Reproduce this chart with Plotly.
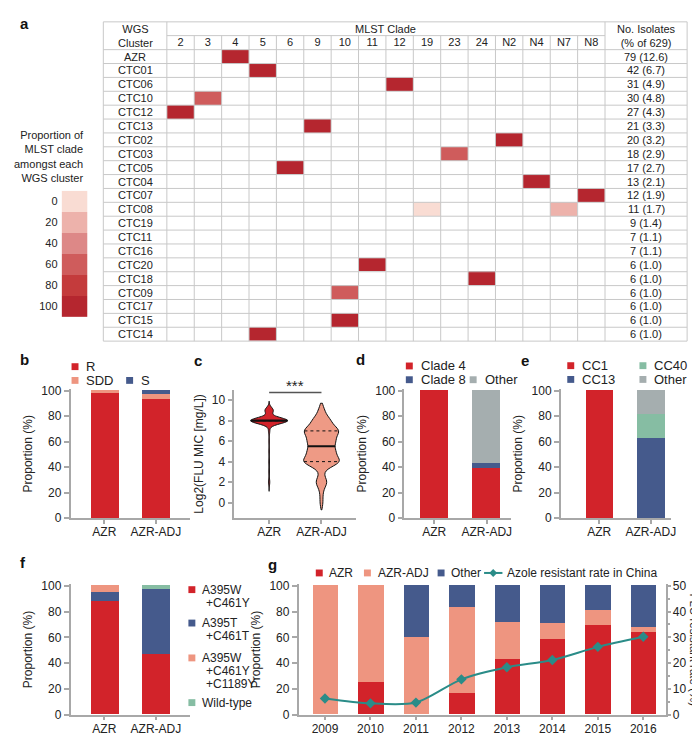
import numpy as np
import plotly.graph_objects as go

W, H = 700, 736
def X(px): return px / W
def Y(py): return 1 - py / H

FONT = "Liberation Sans, Arial, Helvetica, sans-serif"
TXT = "#222222"
AX = "#A8A8A8"
GRID = "#C8C8C8"

# ---------------- Panel a data ----------------
clusters = ["AZR", "CTC01", "CTC06", "CTC10", "CTC12", "CTC13", "CTC02", "CTC03", "CTC05", "CTC04",
            "CTC07", "CTC08", "CTC19", "CTC11", "CTC16", "CTC20", "CTC18", "CTC09", "CTC17", "CTC15", "CTC14"]
clades = ["2", "3", "4", "5", "6", "9", "10", "11", "12", "19", "23", "24", "N2", "N4", "N7", "N8"]
n_isolates = [79, 42, 31, 30, 27, 21, 20, 18, 17, 13, 12, 11, 9, 7, 7, 6, 6, 6, 6, 6, 6]
pct_isolates = [12.6, 6.7, 4.9, 4.8, 4.3, 3.3, 3.2, 2.9, 2.7, 2.1, 1.9, 1.7, 1.4, 1.1, 1.1, 1.0, 1.0, 1.0, 1.0, 1.0, 1.0]
cell_cluster = ["AZR", "CTC01", "CTC06", "CTC10", "CTC12", "CTC13", "CTC02", "CTC03", "CTC05", "CTC04",
                "CTC07", "CTC08", "CTC08", "CTC20", "CTC18", "CTC09", "CTC15", "CTC14"]
cell_clade = ["4", "5", "12", "3", "2", "9", "N2", "23", "6", "N4", "N8", "19", "N7", "11", "24", "10", "10", "5"]
cell_prop = [100, 100, 100, 67, 100, 100, 100, 61, 100, 100, 100, 9, 27, 100, 100, 67, 100, 100]
scale_levels = [0, 20, 40, 60, 80, 100]
scale_colors = ["#F9DCD3", "#EDB2AB", "#DD8887", "#CF5C5C", "#C43B3C", "#B5262F"]

# ---------------- Panels b-g data ----------------
groups = ["AZR", "AZR-ADJ"]
b_names = ["R", "SDD", "S"]
b_R = [98.0, 93.3]
b_SDD = [2.0, 3.6]
b_S = [0.0, 3.1]

c_levels = [0, 1, 2, 3, 4, 5, 6, 7, 8, 9]
c_azr_counts = [0, 0, 2, 1, 1, 1, 1, 2, 58, 13]
c_adj_counts = [1, 1, 4, 1, 13, 9, 9, 12, 6, 2]

d_names = ["Clade 4", "Clade 8", "Other"]
d_clade4 = [100.0, 39.0]
d_clade8 = [0.0, 4.0]
d_other = [0.0, 57.0]

e_names = ["CC1", "CC13", "CC40", "Other"]
e_CC1 = [100.0, 0.0]
e_CC13 = [0.0, 62.3]
e_CC40 = [0.0, 18.9]
e_other = [0.0, 18.8]

f_names = ["A395W<br>+C461Y", "A395T<br>+C461T", "A395W<br>+C461Y<br>+C1189Y", "Wild-type"]
f_W_Y = [88.0, 46.9]
f_T_T = [7.0, 50.0]
f_W_Y_Y = [5.0, 0.0]
f_wild = [0.0, 3.1]

years = ["2009", "2010", "2011", "2012", "2013", "2014", "2015", "2016"]
g_names = ["AZR", "AZR-ADJ", "Other", "Azole resistant rate in China"]
g_AZR = [0.0, 25.0, 0.0, 16.7, 42.9, 58.3, 69.2, 64.0]
g_ADJ = [100.0, 75.0, 60.0, 66.6, 28.5, 12.5, 11.6, 4.0]
g_other = [0.0, 0.0, 40.0, 16.7, 28.6, 29.2, 19.2, 32.0]
g_rate = [6.3, 4.4, 4.7, 13.7, 18.4, 21.2, 26.3, 30.2]

RED = "#D2232A"
SALMON = "#EE9580"
BLUE = "#455A8C"
GREY = "#A5AEAF"
GREEN = "#86BDA3"
TEAL = "#2A8C88"

fig = go.Figure()
shapes = []
annos = []

# ---------------- Panel a: table heatmap ----------------
TBL_L, TBL_R, WGS_R, MLST_R = 96, 684, 160, 601.3
TOP, MID, HDR_B, BOT = 8, 22, 36.3, 333
col_w = (MLST_R - WGS_R) / len(clades)
row_h = (BOT - HDR_B) / len(clusters)

cs = []
nb = len(scale_colors)
for i, c in enumerate(scale_colors):
    cs.append([i / nb, c])
    cs.append([(i + 1) / nb, c])

z = [[None] * len(clades) for _ in clusters]
for cl, cd, p in zip(cell_cluster, cell_clade, cell_prop):
    z[clusters.index(cl)][clades.index(cd)] = p
fig.add_trace(go.Heatmap(z=z, x=clades, y=clusters, colorscale=cs, zmin=-10, zmax=110,
                         showscale=False, xaxis="x", yaxis="y", hoverongaps=False))

# colour key
fig.add_trace(go.Heatmap(z=[[v] for v in scale_levels], x=["key"], y=[str(v) for v in scale_levels],
                         colorscale=cs, zmin=-10, zmax=110, showscale=False, xaxis="x2", yaxis="y2"))

def hline(y, x0, x1, color=GRID, w=1):
    shapes.append(dict(type="line", xref="paper", yref="paper", x0=X(x0), x1=X(x1), y0=Y(y), y1=Y(y),
                       line=dict(color=color, width=w)))

def vline(x, y0, y1, color=GRID, w=1):
    shapes.append(dict(type="line", xref="paper", yref="paper", x0=X(x), x1=X(x), y0=Y(y0), y1=Y(y1),
                       line=dict(color=color, width=w)))

hline(TOP, TBL_L, TBL_R)
hline(MID, WGS_R, MLST_R)
for k in range(len(clusters) + 1):
    hline(HDR_B + k * row_h, TBL_L, TBL_R)
for xx in [TBL_L, WGS_R, MLST_R, TBL_R]:
    vline(xx, TOP, BOT)
for k in range(1, len(clades)):
    vline(WGS_R + k * col_w, MID, BOT)

def text(x, y, s, size=11, xanchor="center", yanchor="middle", align="center", bold=False, angle=0, color=TXT):
    annos.append(dict(x=X(x), y=Y(y), xref="paper", yref="paper", text=("<b>%s</b>" % s) if bold else s,
                      showarrow=False, xanchor=xanchor, yanchor=yanchor, align=align, textangle=angle,
                      font=dict(size=size, color=color, family=FONT)))

text((TBL_L + WGS_R) / 2, (TOP + HDR_B) / 2, "WGS<br>Cluster", 11)
text((WGS_R + MLST_R) / 2, (TOP + MID) / 2, "MLST Clade", 11)
text((MLST_R + TBL_R) / 2, (TOP + HDR_B) / 2, "No. Isolates<br>(% of 629)", 11)
for i, (cl, n, p) in enumerate(zip(clusters, n_isolates, pct_isolates)):
    yy = HDR_B + (i + 0.5) * row_h
    text((TBL_L + WGS_R) / 2, yy, cl, 11)
    text((MLST_R + TBL_R) / 2, yy, "%d (%.1f)" % (n, p), 11)

text(79, 145, "Proportion of<br>MLST clade<br>amongst each<br>WGS cluster", 11, xanchor="right", align="right")

# panel labels
for lab, x, y in [("a", 17, 10), ("b", 17, 352), ("c", 191, 353), ("d", 355, 352), ("e", 521, 353),
                  ("f", 15, 558), ("g", 266, 560)]:
    text(x, y, lab, 15, bold=True, color="#111111")

# ---------------- helpers for bar panels ----------------
def legend_sq(x, y, color, label, size=13, dx=13):
    shapes.append(dict(type="rect", xref="paper", yref="paper", x0=X(x), x1=X(x + 7), y0=Y(y + 3.5),
                       y1=Y(y - 3.5), fillcolor=color, line=dict(width=0)))
    text(x + dx, y, label, size, xanchor="left")

def add_bars(vals, name, color, xa, ya, width=0.54, xcat=groups):
    fig.add_trace(go.Bar(x=xcat, y=vals, name=name, marker=dict(color=color, line=dict(width=0)),
                         width=width, xaxis=xa, yaxis=ya))

axfont = dict(size=12, color=TXT, family=FONT)

def xax(dom, rng, anchor):
    return dict(domain=[X(dom[0]), X(dom[1])], range=rng, type="category", anchor=anchor, showline=True,
                linecolor=AX, linewidth=1.5, ticks="outside", ticklen=4, tickwidth=1.5, tickcolor=AX,
                ticklabelstandoff=-2,
                showgrid=False, zeroline=False, tickfont=axfont, fixedrange=True)

def yax(top_px, bot_px, rng, tickvals, title, anchor, standoff=6):
    return dict(domain=[Y(bot_px), Y(top_px)], range=rng, anchor=anchor, showline=True, linecolor=AX,
                linewidth=1.5, ticks="outside", ticklen=5, tickwidth=1.5, tickcolor=AX, tickvals=tickvals,
                showgrid=False, zeroline=False, tickfont=axfont,
                title=dict(text=title, font=axfont, standoff=standoff), fixedrange=True)

PTICKS = [0, 20, 40, 60, 80, 100]

# ---------------- Panel b ----------------
for vals, nm, col in zip([b_R, b_SDD, b_S], b_names, [RED, SALMON, BLUE]):
    add_bars(vals, nm, col, "x3", "y3")
legend_sq(64, 359, RED, b_names[0])
legend_sq(64, 373, SALMON, b_names[1])
legend_sq(119, 373, BLUE, b_names[2])

# ---------------- Panel c (violin) ----------------
azr_vals = np.repeat(c_levels, c_azr_counts).astype(float)
adj_vals = np.repeat(c_levels, c_adj_counts).astype(float)
viol = [(azr_vals, groups[0], RED, 0.30, [1.1, 9.9], 0.70),
        (adj_vals, groups[1], "#EE9A85", 0.50, [-0.7, 9.7], 0.68)]
for idx, (vals, g, col, bw, span, wd) in enumerate(viol):
    fig.add_trace(go.Violin(x=[g] * len(vals), y=vals, name=g, fillcolor=col, line=dict(color="#111111", width=1),
                            bandwidth=bw, spanmode="manual", span=span, width=wd, scalemode="width",
                            points=False, box_visible=False, meanline_visible=False, opacity=1,
                            xaxis="x4", yaxis="y4"))
    grid = np.linspace(span[0], span[1], 600)
    dens = lambda t: np.exp(-0.5 * ((np.atleast_1d(t)[:, None] - vals[None, :]) / bw) ** 2).sum(1)
    mx = dens(grid).max()
    q1, med, q3 = np.percentile(vals, [25, 50, 75])
    for q, lw, dash in [(q1, 1, "dot"), (q3, 1, "dot"), (med, 2.2, "solid")]:
        hw = wd / 2 * dens(q)[0] / mx
        shapes.append(dict(type="line", xref="x4", yref="y4", x0=idx - hw, x1=idx + hw, y0=q, y1=q,
                           line=dict(color="#111111", width=lw, dash=dash)))
shapes.append(dict(type="line", xref="x4", yref="y4", x0=0, x1=1, y0=10.75, y1=10.75,
                   line=dict(color="#555555", width=1.5)))
annos.append(dict(x=0.5, y=10.75, xref="x4", yref="y4", text="***", showarrow=False, yanchor="bottom",
                  yshift=-3, font=dict(size=15, color=TXT, family=FONT)))

# ---------------- Panel d ----------------
for vals, nm, col in zip([d_clade4, d_clade8, d_other], d_names, [RED, BLUE, GREY]):
    add_bars(vals, nm, col, "x5", "y5")
legend_sq(400.7, 358.3, RED, d_names[0])
legend_sq(400.7, 372.3, BLUE, d_names[1])
legend_sq(465, 372.3, GREY, d_names[2])

# ---------------- Panel e ----------------
for vals, nm, col in zip([e_CC1, e_CC13, e_CC40, e_other], e_names, [RED, BLUE, GREEN, GREY]):
    add_bars(vals, nm, col, "x6", "y6")
legend_sq(563.3, 358, RED, e_names[0])
legend_sq(563.3, 372, BLUE, e_names[1])
legend_sq(636, 358, GREEN, e_names[2])
legend_sq(636, 372, GREY, e_names[3])

# ---------------- Panel f ----------------
f_cols = [RED, BLUE, SALMON, GREEN]
for vals, nm, col in zip([f_W_Y, f_T_T, f_W_Y_Y, f_wild], f_names, f_cols):
    add_bars(vals, nm.replace("<br>", ""), col, "x7", "y7")
for nm, col, y0 in zip(f_names, f_cols, [586, 620, 655.5, 701]):
    lines = nm.split("<br>")
    legend_sq(181.7, y0, col, lines[0], size=12, dx=11.8)
    for j, ln in enumerate(lines[1:]):
        text(197.5, y0 + 13.3 * (j + 1), ln, 12, xanchor="left")

# ---------------- Panel g ----------------
for vals, nm, col in zip([g_AZR, g_ADJ, g_other], g_names[:3], [RED, SALMON, BLUE]):
    add_bars(vals, nm, col, "x8", "y8", width=0.56, xcat=years)
fig.add_trace(go.Scatter(x=years, y=g_rate, name=g_names[3], mode="lines+markers",
                         line=dict(color=TEAL, width=2, shape="spline", smoothing=0.8),
                         marker=dict(symbol="diamond", size=8, color=TEAL), xaxis="x8", yaxis="y9"))
legend_sq(310, 569, RED, g_names[0], size=12, dx=11.7)
legend_sq(358.5, 569, SALMON, g_names[1], size=12, dx=12.3)
legend_sq(432.7, 569, BLUE, g_names[2], size=12, dx=11.5)
shapes.append(dict(type="line", xref="paper", yref="paper", x0=X(479.5), x1=X(498), y0=Y(569), y1=Y(569),
                   line=dict(color=TEAL, width=2)))
cx, cy, r = 488.7, 569, 4
shapes.append(dict(type="path", xref="paper", yref="paper", fillcolor=TEAL, line=dict(width=0),
                   path="M %f,%f L %f,%f L %f,%f L %f,%f Z" % (X(cx), Y(cy - r), X(cx + r), Y(cy), X(cx), Y(cy + r),
                                                           X(cx - r), Y(cy))))
text(500.3, 569, g_names[3], 12, xanchor="left")
text(690.5, 647.5, "FLU resistant rate (%)", 11.5, angle=90)

# ---------------- Layout ----------------
B_TOP, B_BOT = 382.0, 513.3
F_TOP, F_BOT = 580.5, 713.3
yr_b = [0, 100 * (B_BOT - B_TOP) / (B_BOT - 383.3)]
yr_f = [0, 100 * (F_BOT - F_TOP) / (F_BOT - 582.0)]

layout = dict(
    width=W, height=H, margin=dict(l=0, r=0, t=0, b=0), paper_bgcolor="white", plot_bgcolor="white",
    showlegend=False, barmode="stack", violinmode="overlay", bargap=0,
    font=dict(family=FONT, color=TXT, size=12),
    xaxis=dict(domain=[X(WGS_R), X(MLST_R)], range=[-0.5, len(clades) - 0.5], type="category", side="top",
               anchor="y", showline=False, showgrid=False, zeroline=False, ticks="",
               tickfont=dict(size=11, color=TXT, family=FONT), fixedrange=True),
    yaxis=dict(domain=[Y(BOT), Y(HDR_B)], range=[len(clusters) - 0.5, -0.5], type="category", anchor="x",
               showticklabels=False, showline=False, showgrid=False, zeroline=False, ticks="", fixedrange=True),
    xaxis2=dict(domain=[X(54), X(80)], anchor="y2", showticklabels=False, showline=False, showgrid=False,
                zeroline=False, ticks="", fixedrange=True),
    yaxis2=dict(domain=[Y(308.5), Y(180)], range=[len(scale_levels) - 0.5, -0.5], type="category", anchor="x2",
                showline=False, showgrid=False, zeroline=False, ticks="", ticklabelstandoff=3,
                tickfont=dict(size=11, color=TXT, family=FONT), fixedrange=True),
    xaxis3=xax((63, 183), [-0.654, 1.654], "y3"),
    yaxis3=yax(B_TOP, B_BOT, yr_b, PTICKS, "Proportion (%)", "x3"),
    xaxis4=xax((228, 350), [-0.664, 1.65], "y4"),
    yaxis4=yax(382.7, 513, [-1.5, 11], [0, 2, 4, 6, 8, 10], "Log2(FLU MIC [mg/L])", "x4"),
    xaxis5=xax((399.3, 507), [-0.567, 1.47], "y5"),
    yaxis5=yax(B_TOP, B_BOT, yr_b, PTICKS, "Proportion (%)", "x5"),
    xaxis6=xax((556.7, 668), [-0.746, 1.395], "y6"),
    yaxis6=yax(B_TOP, B_BOT, yr_b, PTICKS, "Proportion (%)", "x6"),
    xaxis7=xax((63, 183), [-0.654, 1.654], "y7"),
    yaxis7=yax(F_TOP, F_BOT, yr_f, PTICKS, "Proportion (%)", "x7"),
    xaxis8=xax((292.7, 662.3), [-0.58, 7.49], "y8"),
    yaxis8=yax(F_TOP, F_BOT, yr_f, PTICKS, "Proportion (%)", "x8"),
    yaxis9=dict(domain=[Y(F_BOT), Y(F_TOP)], range=[0, yr_f[1] / 2], overlaying="y8", side="right", anchor="x8",
                showline=True, linecolor=AX, linewidth=1.5, ticks="outside", ticklen=4, tickwidth=1.5,
                tickcolor=AX, tickvals=[0, 10, 20, 30, 40, 50], showgrid=False, zeroline=False, tickfont=axfont,
                ticklabelstandoff=-1,
                minor=dict(tickvals=[5, 15, 25, 35, 45], ticks="outside", ticklen=3, tickwidth=1.5, tickcolor=AX),
                fixedrange=True),
    shapes=shapes, annotations=annos,
)
fig.update_layout(**layout)
fig.write_html("out.html")
